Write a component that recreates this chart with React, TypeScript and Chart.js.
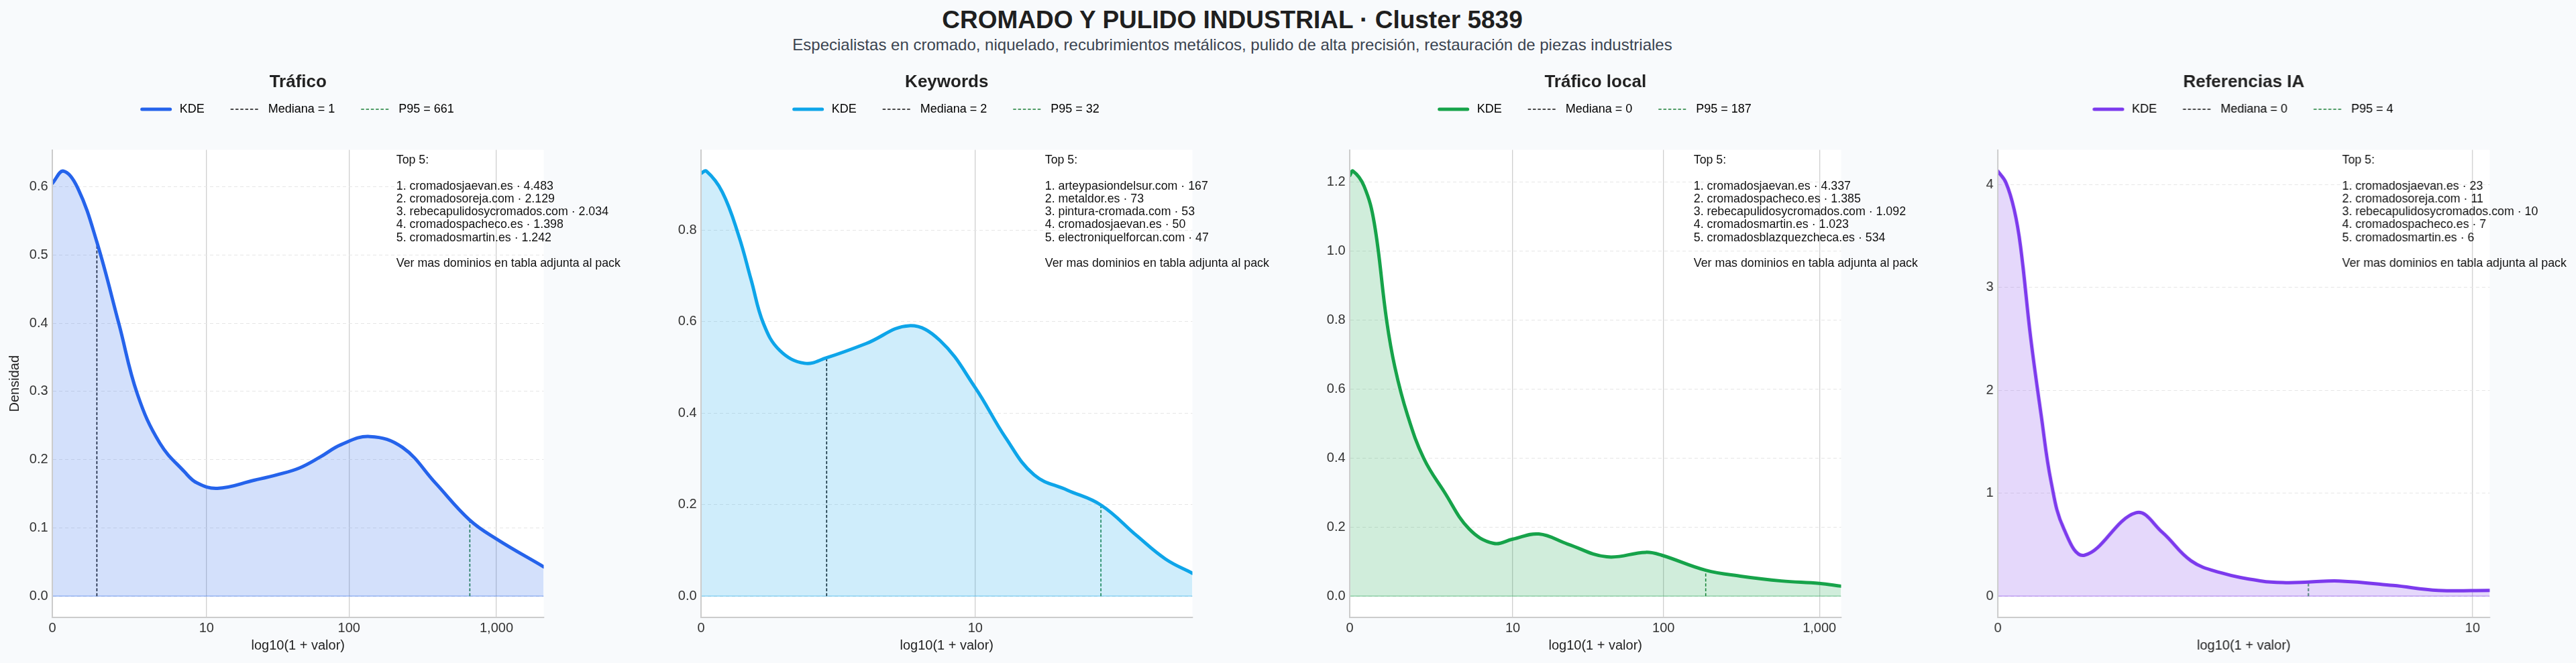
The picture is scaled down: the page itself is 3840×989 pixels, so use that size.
import React, { useEffect, useRef } from 'react'
import { Chart, registerables } from 'chart.js'

Chart.register(...registerables)

const FONT = '"Liberation Sans", Arial, Helvetica, sans-serif'
Chart.defaults.font.family = FONT
Chart.defaults.color = '#333'

const figTitle = 'CROMADO Y PULIDO INDUSTRIAL · Cluster 5839'
const figSubtitle =
  'Especialistas en cromado, niquelado, recubrimientos metálicos, pulido de alta precisión, restauración de piezas industriales'

const panelTitles = ['Tráfico', 'Keywords', 'Tráfico local', 'Referencias IA']
const panelColors = ['#2563eb', '#0ea5e9', '#16a34a', '#7c3aed']

// KDE curves on log10(1 + valor), density
const traficoX = [0, 0.075, 0.172, 0.301, 0.45, 0.575, 0.727, 0.894, 0.977, 1.116, 1.366, 1.52, 1.671, 1.81, 1.95, 2.144, 2.366, 2.588, 2.818, 3.0, 3.32]
const traficoY = [0.605, 0.623, 0.598, 0.519, 0.399, 0.296, 0.224, 0.182, 0.166, 0.158, 0.17, 0.178, 0.188, 0.204, 0.222, 0.234, 0.218, 0.166, 0.112, 0.084, 0.043]

const keywordsX = [0, 0.02, 0.081, 0.143, 0.19, 0.237, 0.299, 0.393, 0.477, 0.627, 0.79, 0.907, 1.041, 1.157, 1.265, 1.39, 1.519, 1.655, 1.764, 1.866]
const keywordsY = [0.924, 0.929, 0.883, 0.788, 0.692, 0.596, 0.537, 0.509, 0.521, 0.552, 0.591, 0.559, 0.456, 0.346, 0.265, 0.232, 0.199, 0.132, 0.081, 0.05]

const localX = [0, 0.021, 0.092, 0.157, 0.236, 0.289, 0.368, 0.473, 0.604, 0.762, 0.919, 1.041, 1.208, 1.392, 1.642, 1.891, 1.99, 2.274, 2.496, 2.758, 3.0, 3.139]
const localY = [1.218, 1.231, 1.187, 1.08, 0.798, 0.662, 0.526, 0.399, 0.302, 0.195, 0.153, 0.165, 0.18, 0.151, 0.114, 0.127, 0.119, 0.075, 0.058, 0.044, 0.037, 0.029]

const iaX = [0, 0.018, 0.036, 0.05, 0.072, 0.095, 0.117, 0.145, 0.19, 0.303, 0.361, 0.424, 0.488, 0.578, 0.632, 0.681, 0.749, 0.867, 0.966, 1.079]
const iaY = [4.13, 4.016, 3.755, 3.396, 2.514, 1.763, 1.11, 0.653, 0.398, 0.81, 0.62, 0.343, 0.229, 0.147, 0.131, 0.137, 0.147, 0.104, 0.056, 0.056]

const kdeXs = [traficoX, keywordsX, localX, iaX]
const kdeYs = [traficoY, keywordsY, localY, iaY]

const medians = [1, 2, 0, 0]
const medianDensity = [0.519, 0.521, 1.218, 4.13]
const p95Values = [661, 32, 187, 3.8]
const p95Labels = ['661', '32', '187', '4']
const p95Density = [0.112, 0.199, 0.075, 0.137]
const xMax = [3.32, 1.866, 3.139, 1.079]

const xTickValues = [0, 10, 100, 1000]
const xTickLabels = ['0', '10', '100', '1,000']
const yTicks = [
  [0, 0.1, 0.2, 0.3, 0.4, 0.5, 0.6],
  [0, 0.2, 0.4, 0.6, 0.8],
  [0, 0.2, 0.4, 0.6, 0.8, 1.0, 1.2],
  [0, 1, 2, 3, 4],
]
const yDecimals = [1, 1, 1, 0]

const top5Domains = [
  ['cromadosjaevan.es', 'cromadosoreja.com', 'rebecapulidosycromados.com', 'cromadospacheco.es', 'cromadosmartin.es'],
  ['arteypasiondelsur.com', 'metaldor.es', 'pintura-cromada.com', 'cromadosjaevan.es', 'electroniquelforcan.com'],
  ['cromadosjaevan.es', 'cromadospacheco.es', 'rebecapulidosycromados.com', 'cromadosmartin.es', 'cromadosblazquezcheca.es'],
  ['cromadosjaevan.es', 'cromadosoreja.com', 'rebecapulidosycromados.com', 'cromadospacheco.es', 'cromadosmartin.es'],
]
const top5Values = [
  ['4.483', '2.129', '2.034', '1.398', '1.242'],
  ['167', '73', '53', '50', '47'],
  ['4.337', '1.385', '1.092', '1.023', '534'],
  ['23', '11', '10', '7', '6'],
]
const moreNote = 'Ver mas dominios en tabla adjunta al pack'

// layout of the 3840x989 picture
const PAGE_W = 3840
const PAGE_H = 989
const AXIS_W = 78
const PLOT_W = 732.5
const PANEL_STEP = 966.6

const MEDIAN_COLOR = '#111111'
const P95_COLOR = '#1a7f37'
const DASH = [4.5, 2.8]

const plotBackground = {
  id: 'plotBackground',
  beforeDraw(chart: any) {
    const { ctx, chartArea: a } = chart
    ctx.save()
    ctx.fillStyle = '#ffffff'
    ctx.fillRect(a.left, a.top, a.right - a.left, a.bottom - a.top)
    ctx.restore()
  },
}

const spines = {
  id: 'spines',
  afterDatasetsDraw(chart: any) {
    const { ctx, chartArea: a } = chart
    ctx.save()
    ctx.strokeStyle = '#cccccc'
    ctx.lineWidth = 2
    ctx.beginPath()
    ctx.moveTo(a.left, a.top)
    ctx.lineTo(a.left, a.bottom)
    ctx.lineTo(a.right, a.bottom)
    ctx.stroke()
    ctx.restore()
  },
}

const makeTopBox = (index: number) => ({
  id: 'topBox',
  afterDraw(chart: any) {
    const { ctx, chartArea: a } = chart
    const lines = ['Top 5:', '']
    top5Domains[index].forEach((d, i) => lines.push(`${i + 1}. ${d} · ${top5Values[index][i]}`))
    lines.push('', moreNote)
    ctx.save()
    ctx.font = `17.8px ${FONT}`
    ctx.fillStyle = '#111'
    ctx.textAlign = 'left'
    ctx.textBaseline = 'alphabetic'
    const x = a.left + 0.7 * (a.right - a.left)
    lines.forEach((t, i) => ctx.fillText(t, x, a.top + 20.5 + i * 19.25))
    ctx.restore()
  },
})

const Panel: React.FC<{ index: number }> = ({ index }) => {
  const ref = useRef<HTMLCanvasElement | null>(null)
  const left = 0.4 + index * PANEL_STEP
  const width = Math.min(966, PAGE_W - left)

  useEffect(() => {
    if (!ref.current) return
    const color = panelColors[index]
    const xs = kdeXs[index]
    const ys = kdeYs[index]
    const peak = Math.max(...ys)
    const medX = Math.log10(1 + medians[index])
    const p95X = Math.log10(1 + p95Values[index])
    const ticksX = xTickValues.map((v) => Math.log10(1 + v)).filter((p) => p <= xMax[index])

    const chart = new Chart(ref.current, {
      type: 'line',
      data: {
        datasets: [
          {
            label: 'KDE',
            data: xs.map((x, i) => ({ x, y: ys[i] })),
            borderColor: color,
            backgroundColor: color + '33',
            borderWidth: 5,
            fill: 'origin',
            pointRadius: 0,
            tension: 0.4,
            borderCapStyle: 'round',
            borderJoinStyle: 'round',
          },
          {
            label: `Mediana = ${medians[index]}`,
            data: [
              { x: medX, y: 0 },
              { x: medX, y: medianDensity[index] },
            ],
            borderColor: MEDIAN_COLOR,
            borderWidth: 1.6,
            borderDash: DASH,
            pointRadius: 0,
            fill: false,
          },
          {
            label: `P95 = ${p95Labels[index]}`,
            data: [
              { x: p95X, y: 0 },
              { x: p95X, y: p95Density[index] },
            ],
            borderColor: P95_COLOR,
            borderWidth: 1.6,
            borderDash: DASH,
            pointRadius: 0,
            fill: false,
          },
          {
            label: '',
            data: [
              { x: 0, y: 0 },
              { x: xMax[index], y: 0 },
            ],
            borderColor: color + '66',
            borderWidth: 1.5,
            pointRadius: 0,
            fill: false,
          },
        ],
      },
      options: {
        animation: false,
        responsive: true,
        maintainAspectRatio: false,
        layout: { padding: { top: 107.4, left: 0, right: width - AXIS_W - PLOT_W, bottom: 0 } },
        scales: {
          x: {
            type: 'linear',
            min: 0,
            max: xMax[index],
            bounds: 'data',
            afterBuildTicks: (s: any) => {
              s.ticks = ticksX.map((value) => ({ value }))
            },
            afterFit: (s: any) => {
              s.height = 68
            },
            ticks: {
              autoSkip: false,
              maxRotation: 0,
              padding: 4,
              color: '#333',
              font: { size: 20 },
              callback: (_v: any, i: number) => xTickLabels[i],
            },
            grid: { color: '#cfcfcf', lineWidth: 1.3, drawTicks: false },
            border: { display: true, color: '#cccccc', width: 2 },
            title: {
              display: true,
              text: 'log10(1 + valor)',
              color: '#222',
              font: { size: 20 },
              padding: { top: 0, bottom: 14 },
            },
          },
          y: {
            type: 'linear',
            min: -0.05 * peak,
            max: 1.05 * peak,
            bounds: 'data',
            afterBuildTicks: (s: any) => {
              s.ticks = yTicks[index].map((value) => ({ value }))
            },
            afterFit: (s: any) => {
              s.width = AXIS_W
            },
            ticks: {
              padding: 6.4,
              color: '#333',
              font: { size: 20 },
              callback: (v: any) => Number(v).toFixed(yDecimals[index]),
            },
            grid: { color: '#e6e6e6', lineWidth: 1, drawTicks: false },
            border: { display: true, color: '#cccccc', width: 2, dash: [5, 4] },
            title: {
              display: index === 0,
              text: 'Densidad',
              color: '#222',
              font: { size: 20 },
              padding: { top: 10.6, bottom: 0 },
            },
          },
          xTop: {
            type: 'linear',
            position: 'top',
            display: true,
            ticks: { display: false },
            grid: { display: false, drawTicks: false },
            border: { display: false },
            afterFit: (s: any) => {
              s.height = 41.5
            },
          },
        },
        plugins: {
          title: {
            display: true,
            text: panelTitles[index],
            fullSize: false,
            color: '#222',
            font: { size: 26, weight: 'bold' },
            padding: { top: 0, bottom: -23.6 },
          },
          legend: {
            display: true,
            position: 'top',
            fullSize: false,
            labels: {
              usePointStyle: true,
              pointStyleWidth: 42,
              padding: 39,
              color: '#222',
              font: { size: 18 },
              generateLabels: (c: any) =>
                c.data.datasets.slice(0, 3).map((ds: any, i: number) => ({
                  text: ' ' + ds.label,
                  fillStyle: ds.borderColor,
                  strokeStyle: ds.borderColor,
                  lineWidth: ds.borderWidth,
                  lineDash: ds.borderDash || [],
                  lineCap: i === 0 ? 'round' : 'butt',
                  pointStyle: 'line',
                  hidden: false,
                  datasetIndex: i,
                })),
            },
          },
          tooltip: { enabled: false },
        },
      } as any,
      plugins: [plotBackground, spines, makeTopBox(index)],
    })
    return () => chart.destroy()
  }, [index, width])

  return (
    <div style={{ position: 'absolute', left, top: 0, width, height: PAGE_H }}>
      <canvas ref={ref} />
    </div>
  )
}

export default function App() {
  return (
    <div
      style={{
        position: 'absolute',
        left: 0,
        top: 0,
        width: PAGE_W,
        height: PAGE_H,
        overflow: 'hidden',
        background: '#f8fafc',
        fontFamily: FONT,
      }}
    >
      <div
        style={{
          position: 'absolute',
          left: 1837 - 1500,
          width: 3000,
          top: 11,
          textAlign: 'center',
          fontSize: 37,
          lineHeight: '37px',
          fontWeight: 'bold',
          color: '#1f1f1f',
          whiteSpace: 'nowrap',
        }}
      >
        {figTitle}
      </div>
      <div
        style={{
          position: 'absolute',
          left: 1837 - 1500,
          width: 3000,
          top: 55,
          textAlign: 'center',
          fontSize: 24,
          lineHeight: '24px',
          color: '#3b4450',
          whiteSpace: 'nowrap',
        }}
      >
        {figSubtitle}
      </div>
      {panelTitles.map((_, i) => (
        <Panel key={i} index={i} />
      ))}
    </div>
  )
}
